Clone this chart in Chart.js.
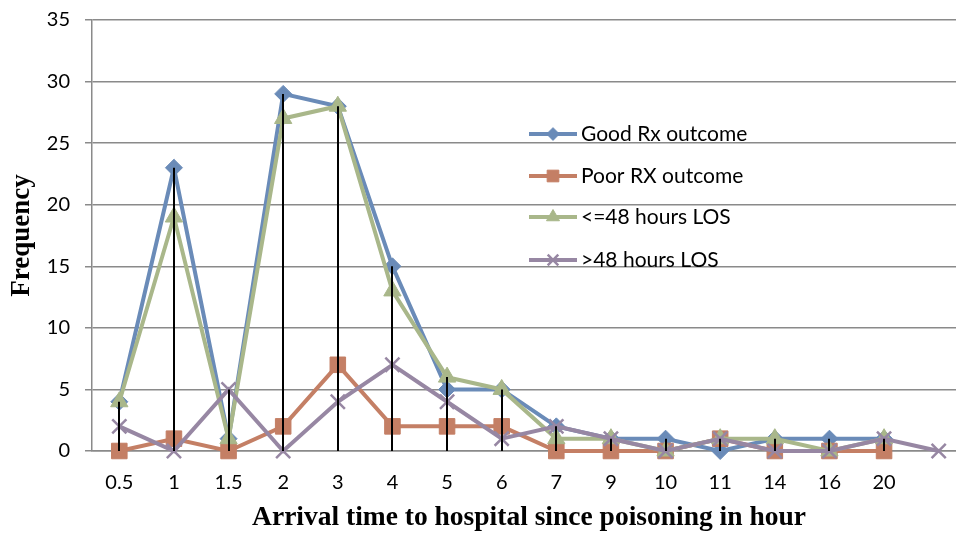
<!DOCTYPE html>
<html>
<head>
<meta charset="utf-8">
<script src="https://cdn.jsdelivr.net/npm/chart.js@4/dist/chart.umd.min.js"></script>
<style>
  html, body { margin: 0; padding: 0; background: #fff; overflow: hidden; }
  #wrap { position: relative; width: 956px; height: 534px; }
  #freqChart { display: block; }
</style>
</head>
<body>
<div id="wrap"><canvas id="freqChart" width="956" height="534"></canvas></div>
<script>
// categorias (horas até chegar ao hospital) – a última fica sem rótulo
const horas = ['0.5', '1', '1.5', '2', '3', '4', '5', '6', '7', '9', '10', '11', '14', '16', '20', ''];

// frequências
const bomDesfecho   = [4, 23, 1, 29, 28, 15, 5, 5, 2, 1, 1, 0, 1, 1, 1, null];
const mauDesfecho   = [0, 1, 0, 2, 7, 2, 2, 2, 0, 0, 0, 1, 0, 0, 0, null];
const ate48h        = [4, 19, 1, 27, 28, 13, 6, 5, 1, 1, 0, 1, 1, 0, 1, null];
const mais48h       = [2, 0, 5, 0, 4, 7, 4, 1, 2, 1, 0, 1, 0, 0, 1, 0];

const nomesSeries = ['Good Rx outcome', 'Poor RX outcome', '<=48 hours LOS', '>48 hours LOS'];
const yTicks = { min: 0, max: 35, passo: 5 };

const cores = ['#6a8bb8', '#c47f65', '#a9b78a', '#9787a3'];
const fonteTick = 'Lato';

function serie(i, dados, estilo, raio, ordem, borda) {
    return {
        label: nomesSeries[i],
        data: dados,
        borderColor: cores[i],
        backgroundColor: cores[i],
        borderWidth: 4,
        pointStyle: estilo,
        pointRadius: raio,
        pointHoverRadius: raio,
        pointBorderColor: cores[i],
        pointBackgroundColor: cores[i],
        pointBorderWidth: borda,
        tension: 0,
        spanGaps: false,
        clip: false,
        order: ordem
    };
}

// a área do gráfico no original passa um pouco da borda direita da imagem
const esticaEixoX = {
    id: 'esticaEixoX',
    afterLayout(chart) {
        const x = chart.scales.x;
        const largura = 874;
        x.right = x.left + largura;
        x.width = largura;
        chart.chartArea.right = x.right;
        chart.chartArea.width = largura;
        x.configure();
    }
};

// linhas de queda (drop lines) do maior valor até o eixo
const dropLines = {
    id: 'dropLines',
    afterDatasetsDraw(chart) {
        const ctx = chart.ctx;
        const x = chart.scales.x, y = chart.scales.y;
        ctx.save();
        ctx.strokeStyle = '#000';
        ctx.lineWidth = 2;
        horas.forEach((h, i) => {
            let max = null;
            chart.data.datasets.forEach(ds => {
                const v = ds.data[i];
                if (v !== null && v !== undefined && (max === null || v > max)) max = v;
            });
            if (max === null || max <= 0) return;
            const px = Math.round(x.getPixelForValue(i));
            ctx.beginPath();
            ctx.moveTo(px, y.getPixelForValue(max));
            ctx.lineTo(px, y.getPixelForValue(0));
            ctx.stroke();
        });
        ctx.restore();
    }
};

// legenda dentro da área do gráfico
const legendaInterna = {
    id: 'legendaInterna',
    afterDraw(chart) {
        const ctx = chart.ctx;
        const posY = [134, 176, 217, 260];
        ctx.save();
        chart.data.datasets.forEach((ds, i) => {
            const yy = posY[i];
            ctx.strokeStyle = ds.borderColor;
            ctx.lineWidth = 4;
            ctx.beginPath();
            ctx.moveTo(529, yy);
            ctx.lineTo(577, yy);
            ctx.stroke();
            ctx.fillStyle = ds.backgroundColor;
            ctx.strokeStyle = ds.borderColor;
            ctx.lineWidth = ds.pointBorderWidth;
            Chart.helpers.drawPoint(ctx, {
                pointStyle: ds.pointStyle,
                radius: ds.pointRadius * 0.75,
                rotation: 0,
                borderWidth: ds.pointBorderWidth
            }, 553, yy);
            ctx.fillStyle = '#000';
            ctx.font = '21px ' + fonteTick;
            ctx.textBaseline = 'middle';
            ctx.textAlign = 'left';
            ctx.fillText(ds.label, 581, yy);
        });
        ctx.restore();
    }
};

const ctx = document.getElementById('freqChart').getContext('2d');
new Chart(ctx, {
    type: 'line',
    data: {
        labels: horas,
        datasets: [
            serie(0, bomDesfecho, 'rectRot', 8.5, 4, 1),
            serie(1, mauDesfecho, 'rect', 11, 3, 1),
            serie(2, ate48h, 'triangle', 10, 2, 1),
            serie(3, mais48h, 'crossRot', 10, 1, 2.5)
        ]
    },
    options: {
        responsive: false,
        animation: false,
        events: [],
        layout: { padding: { top: 20, right: 0, bottom: 0, left: 0 } },
        plugins: {
            legend: { display: false },
            tooltip: { enabled: false }
        },
        scales: {
            x: {
                offset: true,
                grid: { display: false, drawTicks: false },
                border: { display: true, color: '#8a8a8a', width: 1.5 },
                ticks: {
                    color: '#000',
                    padding: 20,
                    maxRotation: 0,
                    autoSkip: false,
                    font: { family: fonteTick, size: 20 }
                },
                title: {
                    display: true,
                    text: 'Arrival time to hospital since poisoning in hour',
                    color: '#000',
                    font: { family: 'Liberation Serif', size: 27.5, weight: 'bold' },
                    padding: { top: 0, bottom: 0 }
                },
                afterFit(scale) {
                    scale.height = 83;
                    scale.paddingLeft = 0;
                    scale.paddingRight = 0;
                }
            },
            y: {
                min: yTicks.min,
                max: yTicks.max,
                grid: { color: '#8a8a8a', lineWidth: 1.5, tickLength: 7, drawTicks: true },
                border: { display: true, color: '#8a8a8a', width: 1.5 },
                ticks: {
                    stepSize: yTicks.passo,
                    color: '#000',
                    padding: 15,
                    font: { family: fonteTick, size: 20 }
                },
                title: {
                    display: true,
                    text: 'Frequency',
                    color: '#000',
                    font: { family: 'Liberation Serif', size: 27, weight: 'bold' },
                    padding: { top: 6, bottom: 0 }
                },
                afterFit(scale) {
                    scale.width = 92;
                    scale.paddingTop = 0;
                    scale.paddingBottom = 0;
                }
            }
        }
    },
    plugins: [esticaEixoX, dropLines, legendaInterna]
});
</script>
</body>
</html>
